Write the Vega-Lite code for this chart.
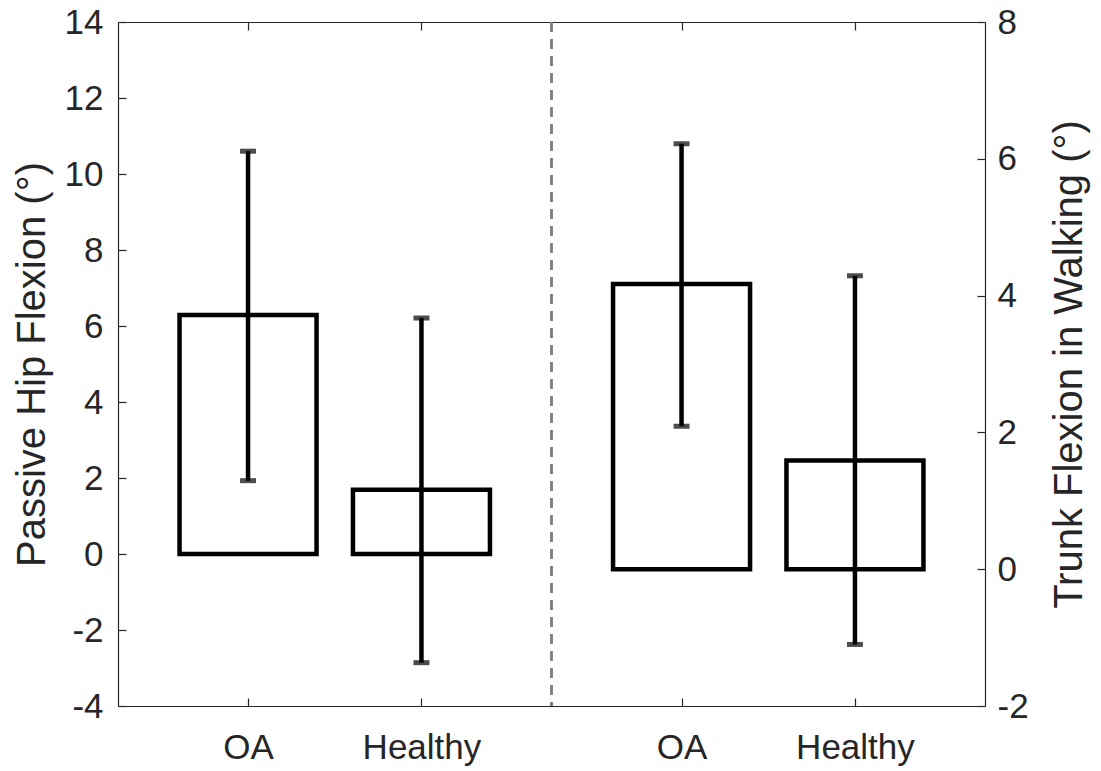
{
  "$schema": "https://vega.github.io/schema/vega-lite/v6.json",
  "width": 867,
  "height": 684,
  "autosize": "none",
  "padding": {"left": 118, "top": 22, "right": 116, "bottom": 65},
  "background": "white",
  "data": {"values": [
    {"side": "left", "group": "OA", "pos": 1, "mean": 6.29, "lo": 1.93, "hi": 10.60},
    {"side": "left", "group": "Healthy", "pos": 2, "mean": 1.69, "lo": -2.86, "hi": 6.21},
    {"side": "right", "group": "OA", "pos": 3.5, "mean": 4.17, "lo": 2.09, "hi": 6.22},
    {"side": "right", "group": "Healthy", "pos": 4.5, "mean": 1.59, "lo": -1.10, "hi": 4.29}
  ]},
  "config": {
    "view": {"stroke": null},
    "axis": {
      "grid": false,
      "domainColor": "#262626",
      "domainWidth": 1.2,
      "tickColor": "#262626",
      "tickWidth": 1.2,
      "tickSize": -8,
      "labelColor": "#262626",
      "labelFont": "Liberation Sans",
      "labelFontSize": 35,
      "labelFlush": false,
      "labelOverlap": false,
      "labelBound": false,
      "titleFont": "Liberation Sans",
      "titleFontSize": 40,
      "titleFontWeight": "normal",
      "titleColor": "#262626"
    }
  },
  "layer": [
    {
      "transform": [{"filter": "datum.side === 'left'"}],
      "encoding": {
        "x": {"field": "pos", "type": "quantitative",
          "scale": {"domain": [0.25, 5.25], "nice": false, "zero": false, "padding": 0},
          "axis": {"orient": "bottom", "values": [1, 2, 3.5, 4.5], "title": null, "labelPadding": 32,
            "labelExpr": "datum.value == 1 || datum.value == 3.5 ? 'OA' : 'Healthy'"}}
      },
      "layer": [
        {
          "mark": {"type": "bar", "orient": "vertical", "fill": "white", "stroke": "black", "strokeWidth": 4.5, "size": 137},
          "encoding": {
            "y": {"field": "mean", "type": "quantitative",
              "scale": {"domain": [-4, 14], "nice": false, "zero": false, "padding": 0},
              "axis": {"orient": "left", "values": [-4, -2, 0, 2, 4, 6, 8, 10, 12, 14], "labelPadding": 23, "labelExpr": "'' + datum.value", "title": "Passive Hip Flexion (°)", "titlePadding": 12}},
            "y2": {"datum": 0}
          }
        },
        {
          "mark": {"type": "rule", "color": "black", "strokeWidth": 4.5},
          "encoding": {
            "y": {"field": "lo", "type": "quantitative"},
            "y2": {"field": "hi"}
          }
        },
        {
          "mark": {"type": "tick", "orient": "horizontal", "color": "black", "size": 16, "thickness": 5},
          "encoding": {"y": {"field": "lo", "type": "quantitative"}}
        },
        {
          "mark": {"type": "tick", "orient": "horizontal", "color": "black", "size": 16, "thickness": 5},
          "encoding": {"y": {"field": "hi", "type": "quantitative"}}
        }
      ]
    },
    {
      "transform": [{"filter": "datum.side === 'right'"}],
      "encoding": {
        "x": {"field": "pos", "type": "quantitative",
          "scale": {"domain": [0.25, 5.25], "nice": false, "zero": false, "padding": 0},
          "axis": {"orient": "top", "values": [1, 2, 3.5, 4.5], "title": null, "labels": false}}
      },
      "layer": [
        {
          "mark": {"type": "bar", "orient": "vertical", "fill": "white", "stroke": "black", "strokeWidth": 4.5, "size": 137},
          "encoding": {
            "y": {"field": "mean", "type": "quantitative",
              "scale": {"domain": [-2, 8], "nice": false, "zero": false, "padding": 0},
              "axis": {"orient": "right", "values": [-2, 0, 2, 4, 6, 8], "labelPadding": 20, "labelExpr": "'' + datum.value", "title": "Trunk Flexion in Walking (°)", "titleAngle": 270, "titleBaseline": "top", "titlePadding": 21}},
            "y2": {"datum": 0}
          }
        },
        {
          "mark": {"type": "rule", "color": "black", "strokeWidth": 4.5},
          "encoding": {
            "y": {"field": "lo", "type": "quantitative"},
            "y2": {"field": "hi"}
          }
        },
        {
          "mark": {"type": "tick", "orient": "horizontal", "color": "black", "size": 16, "thickness": 5},
          "encoding": {"y": {"field": "lo", "type": "quantitative"}}
        },
        {
          "mark": {"type": "tick", "orient": "horizontal", "color": "black", "size": 16, "thickness": 5},
          "encoding": {"y": {"field": "hi", "type": "quantitative"}}
        }
      ]
    },
    {
      "mark": {"type": "rule", "color": "#7f7f7f", "strokeWidth": 2, "strokeDash": [10, 7]},
      "encoding": {"x": {"datum": 2.75, "type": "quantitative", "axis": null}}
    }
  ],
  "resolve": {"scale": {"y": "independent"}, "axis": {"x": "independent", "y": "independent"}}
}
